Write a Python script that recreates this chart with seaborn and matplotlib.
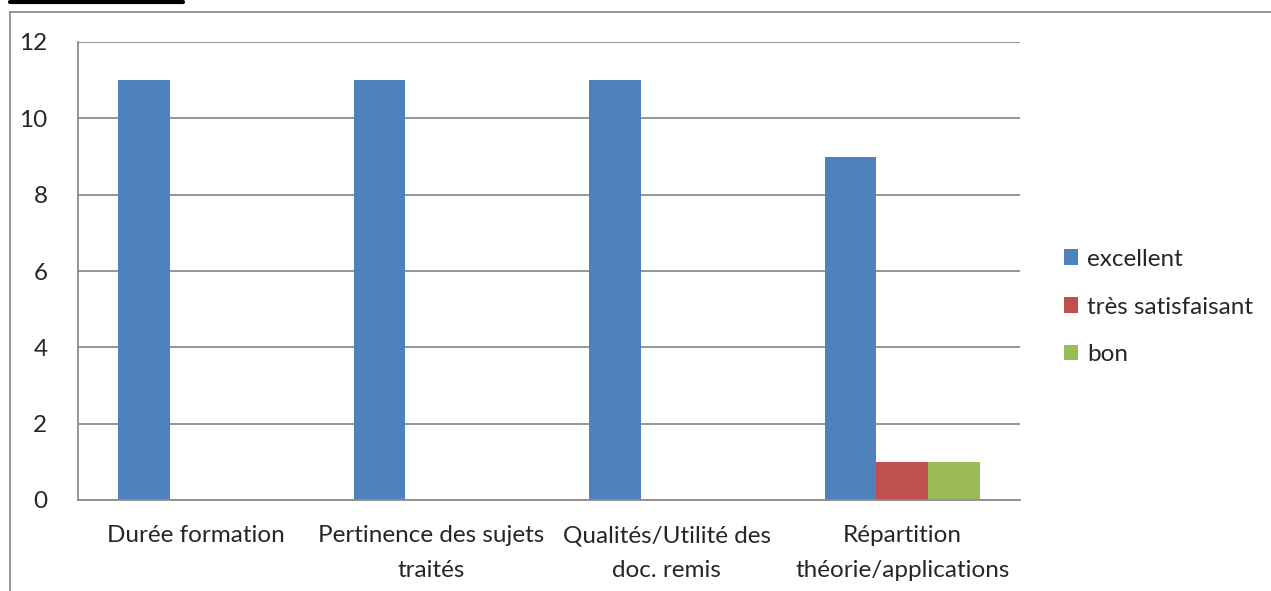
import pandas as pd
import numpy as np
import matplotlib.pyplot as plt
import seaborn as sns
from matplotlib.lines import Line2D

sns.set_style("white")
plt.rcParams["font.family"] = ["Lato", "DejaVu Sans"]

categories = ["Durée formation", "Pertinence des sujets\ntraités",
              "Qualités/Utilité des\ndoc. remis", "Répartition\nthéorie/applications"]
series = ["excellent", "très satisfaisant", "bon"]
excellent = [11, 11, 11, 9]
tres_satisfaisant = [0, 0, 0, 1]
bon = [0, 0, 0, 1]
colors = ["#4F81BD", "#C0504D", "#9BBB59"]

df = pd.DataFrame({
    "categorie": categories * 3,
    "serie": [series[0]] * 4 + [series[1]] * 4 + [series[2]] * 4,
    "valeur": excellent + tres_satisfaisant + bon,
})

fig = plt.figure(figsize=(12.71, 5.91), dpi=100)
ax = fig.add_axes([78 / 1271, 1 - 500 / 591, (1020 - 78) / 1271, (500 - 42) / 591])

sns.barplot(data=df, x="categorie", y="valeur", hue="serie", hue_order=series,
            palette=colors, width=0.66, gap=0, saturation=1, linewidth=0, ax=ax)

grid_col = "#8C8C8C"
fs = 17.5
ax.set_xlim(-0.5, 3.5)
ax.set_ylim(0, 12)
ax.set_yticks(range(0, 13, 2))
ax.yaxis.grid(True, color=grid_col, linewidth=1.3)
ax.set_axisbelow(True)
ax.set_xlabel("")
ax.set_ylabel("")
ax.set_xticks([0, 1, 2, 3])
ax.set_xticklabels(categories, fontsize=fs, linespacing=1.8)
ax.set_xticks([-0.5, 0.5, 1.5, 2.5, 3.5], minor=True)
ax.tick_params(axis="x", which="major", length=0, pad=18)
ax.tick_params(axis="x", which="minor", length=8, color=grid_col, width=1.3, direction="out")
ax.tick_params(axis="y", length=8, color=grid_col, width=1.3, pad=14, labelsize=fs, direction="out")
for s in ["top", "right"]:
    ax.spines[s].set_visible(False)
for s in ["left", "bottom"]:
    ax.spines[s].set_color(grid_col)
    ax.spines[s].set_linewidth(1.3)

leg = ax.legend(loc="center left", bbox_to_anchor=(1042 / 1271, 1 - 307 / 591),
                bbox_transform=fig.transFigure, frameon=False, fontsize=fs,
                handlelength=0.6, handleheight=0.6, handletextpad=0.35,
                labelspacing=1.1)

# cadre du graphique et soulignement coupé en haut
fig.add_artist(Line2D([10 / 1271, 1], [1 - 12 / 591] * 2, color=grid_col, linewidth=1.3))
fig.add_artist(Line2D([10 / 1271] * 2, [0, 1 - 12 / 591], color=grid_col, linewidth=1.3))
fig.add_artist(Line2D([10 / 1271, 183 / 1271], [1 - 2 / 591] * 2, color="black", linewidth=3))

fig.savefig("out.png", dpi=100)
